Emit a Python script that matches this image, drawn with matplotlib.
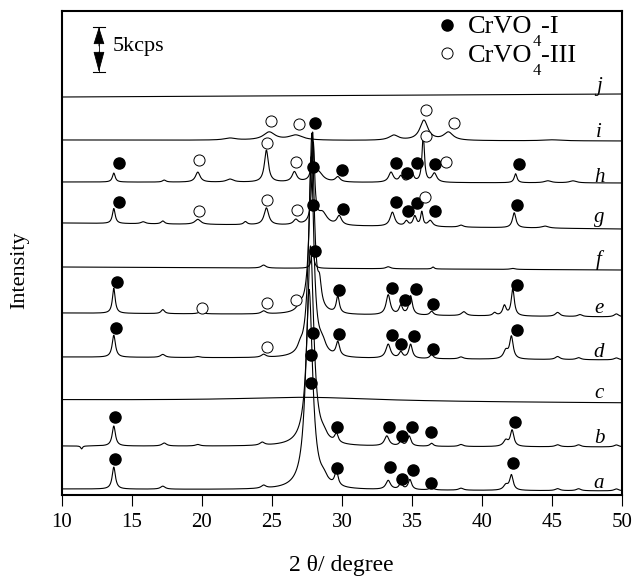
import numpy as np
import matplotlib
matplotlib.use("Agg")
import matplotlib.pyplot as plt

plt.rcParams["font.family"] = ["Liberation Serif", "DejaVu Serif"]

# pattern names, bottom to top
labels = ["a", "b", "c", "d", "e", "f", "g", "h", "i", "j"]
# stacked baseline of each pattern at 10 deg and at 50 deg
base_left = [6, 49, 95, 138, 182, 228, 272, 313, 355, 398]
base_right = [4, 48, 92, 135, 178, 225, 266, 312, 354, 401]
# y where the letter sits
label_y = [7, 52, 97, 138, 182, 230, 273, 313, 358, 404]

# reflections: (2theta, height, half width)
peaks_a = [(13.7, 22, 0.14), (17.2, 3, 0.2), (24.4, 3, 0.2), (27.65, 200, 0.3),
           (28.7, 6, 0.3), (29.6, 14, 0.15), (33.3, 9, 0.2), (34.2, 6, 0.15),
           (34.85, 10, 0.15), (36.4, 3, 0.15), (38.5, 2, 0.2), (41.7, 5, 0.2),
           (42.1, 15, 0.15), (45.4, 2, 0.2), (46.9, 2, 0.2), (49.6, 2, 0.2)]
peaks_b = [(11.4, -3, 0.08), (13.7, 20, 0.14), (17.3, 3, 0.2), (19.7, 1.5, 0.2),
           (24.3, 3, 0.2), (27.75, 200, 0.28), (28.7, 5, 0.3), (29.6, 9, 0.15),
           (33.2, 10, 0.2), (34.2, 4, 0.15), (34.8, 10, 0.15), (36.4, 3, 0.15),
           (38.5, 2, 0.2), (41.7, 6, 0.2), (42.15, 16, 0.15), (45.4, 2, 0.2),
           (46.9, 2, 0.2), (49.6, 2, 0.2)]
peaks_c = [(27.5, 4, 6.0)]
peaks_d = [(13.7, 22, 0.14), (17.2, 3, 0.2), (19.7, 1, 0.2), (24.4, 3, 0.2),
           (27.0, 5, 0.2), (27.8, 200, 0.22), (28.6, 10, 0.3), (29.7, 14, 0.15),
           (33.3, 14, 0.2), (34.2, 6, 0.15), (34.9, 14, 0.15), (36.4, 4, 0.15),
           (38.5, 2, 0.2), (41.7, 8, 0.2), (42.1, 22, 0.15), (45.4, 3, 0.2),
           (46.9, 2, 0.2), (49.6, 2, 0.2)]
peaks_e = [(13.7, 25, 0.12), (17.2, 4, 0.15), (19.9, 2, 0.2), (24.4, 3, 0.2),
           (27.0, 5, 0.2), (27.85, 180, 0.2), (28.4, 20, 0.15), (29.7, 17, 0.13),
           (33.3, 20, 0.18), (34.2, 9, 0.15), (34.9, 19, 0.15), (36.4, 4, 0.15),
           (38.7, 4, 0.2), (40.9, 3, 0.15), (41.6, 10, 0.15), (42.2, 27, 0.13),
           (45.4, 4, 0.2), (47.0, 2, 0.2), (49.6, 3, 0.2)]
peaks_f = [(24.4, 3, 0.2), (27.9, 20, 0.1), (33.3, 2, 0.2), (36.5, 2, 0.1),
           (42.2, 1, 0.2)]
peaks_g = [(13.7, 15, 0.12), (15.8, 2, 0.2), (17.2, 3, 0.15), (19.7, 5, 0.25),
           (23.1, 3, 0.15), (24.6, 17, 0.2), (26.7, 5, 0.2), (27.95, 80, 0.12),
           (28.6, 12, 0.4), (29.8, 9, 0.2), (33.6, 14, 0.2), (34.6, 5, 0.15),
           (35.2, 10, 0.15), (35.7, 14, 0.1), (36.3, 6, 0.2), (38.5, 2, 0.2),
           (42.3, 15, 0.15), (44.5, 2, 0.3)]
peaks_h = [(13.7, 9, 0.12), (17.3, 2, 0.15), (19.7, 10, 0.2), (22.0, 3, 0.3),
           (24.6, 32, 0.17), (26.6, 10, 0.2), (27.9, 45, 0.08), (28.3, 10, 0.4),
           (29.7, 5, 0.2), (33.5, 10, 0.2), (34.2, 6, 0.15), (35.0, 9, 0.15),
           (35.8, 48, 0.1), (36.6, 9, 0.2), (42.4, 9, 0.12), (44.7, 2, 0.3),
           (46.5, 2, 0.3)]
peaks_i = [(22.0, 2, 0.5), (24.8, 8, 0.5), (26.7, 5, 0.6), (33.7, 5, 0.4),
           (35.85, 20, 0.35), (37.6, 8, 0.4), (45.0, 1, 0.8)]
peaks_j = []

# CrVO4-I (filled) and CrVO4-III (open) markers: (2theta, y)
dots_a = [(13.75, 36), (27.8, 140), (29.64, 27), (33.43, 28), (34.29, 16),
          (35.07, 25), (36.36, 12), (42.21, 32)]
dots_b = [(13.79, 78), (27.8, 112), (29.64, 68), (33.36, 68), (34.29, 59),
          (35.0, 68), (36.36, 63), (42.36, 73)]
dots_d = [(13.86, 167), (27.93, 162), (29.79, 161), (33.57, 160), (34.21, 151),
          (35.14, 159), (36.5, 146), (42.5, 165)]
dots_e = [(13.93, 213), (29.79, 205), (33.57, 207), (34.5, 195), (35.29, 206),
          (36.5, 191), (42.5, 210)]
dots_f = [(28.07, 244)]
dots_g = [(14.07, 293), (27.93, 290), (30.07, 286), (33.86, 293), (34.71, 284),
          (35.36, 292), (36.64, 284), (42.5, 290)]
dots_h = [(14.07, 332), (27.93, 328), (30.0, 325), (33.86, 332), (34.64, 322),
          (35.36, 332), (36.64, 331), (42.64, 331)]
dots_i = [(28.07, 372)]
rings_d = [(24.64, 148)]
rings_e = [(20.0, 187), (24.64, 192), (26.71, 195)]
rings_g = [(19.79, 284), (24.64, 295), (26.79, 285), (35.93, 298)]
rings_h = [(19.79, 335), (24.64, 352), (26.71, 333), (36.0, 359), (37.43, 333)]
rings_i = [(24.93, 374), (26.93, 371), (36.0, 385), (38.0, 372)]

peaks = [peaks_a, peaks_b, peaks_c, peaks_d, peaks_e,
         peaks_f, peaks_g, peaks_h, peaks_i, peaks_j]
dots = dots_a + dots_b + dots_d + dots_e + dots_f + dots_g + dots_h + dots_i
rings = rings_d + rings_e + rings_g + rings_h + rings_i

two_theta = np.linspace(10, 50, 4001)


def pattern(plist, b0, b1):
    y = b0 + (b1 - b0) * (two_theta - 10) / 40
    for pos, hgt, w in plist:
        y = y + hgt / (1 + ((two_theta - pos) / w) ** 2)
    return y


fig = plt.figure(figsize=(6.36, 5.77), dpi=100)
ax = fig.add_axes([62 / 636, 82 / 577, 560 / 636, 484 / 577])

for lab, plist, b0, b1, ly in zip(labels, peaks, base_left, base_right, label_y):
    ax.plot(two_theta, pattern(plist, b0, b1), color="black", lw=0.8)
    ax.text(48.36, ly, lab, style="italic", fontsize=15, ha="center",
            va="baseline")

ax.plot([d[0] for d in dots], [d[1] for d in dots], "o", color="black",
        ms=8, zorder=4)
ax.plot([r[0] for r in rings], [r[1] for r in rings], "o", mfc="white",
        mec="black", mew=0.7, ms=8, zorder=4)

# legend (the subscript 4 sits low, as in the original figure)
ax.plot([37.5], [470], "o", color="black", ms=8)
ax.plot([37.5], [442], "o", mfc="white", mec="black", mew=0.7, ms=8)
ax.text(39.0, 462, "CrVO", fontsize=19, va="baseline")
ax.text(43.62, 449, "4", fontsize=12, va="baseline")
ax.text(44.18, 462, "-I", fontsize=19, va="baseline")
ax.text(39.0, 433, "CrVO", fontsize=19, va="baseline")
ax.text(43.62, 420, "4", fontsize=12, va="baseline")
ax.text(44.18, 433, "-III", fontsize=19, va="baseline")

# 5 kcps scale bar
sx = 12.64
ax.plot([sx - 0.43, sx + 0.43], [468, 468], color="black", lw=0.8)
ax.plot([sx - 0.43, sx + 0.43], [423, 423], color="black", lw=0.8)
ax.plot([sx, sx], [423, 468], color="black", lw=0.6)
ax.annotate("", xy=(sx, 468), xytext=(sx, 449),
            arrowprops=dict(arrowstyle="-|>,head_length=1.1,head_width=0.35",
                            color="black", lw=0.6, shrinkA=0, shrinkB=0))
ax.annotate("", xy=(sx, 423), xytext=(sx, 443),
            arrowprops=dict(arrowstyle="-|>,head_length=1.3,head_width=0.35",
                            color="black", lw=0.6, shrinkA=0, shrinkB=0))
ax.text(13.64, 448, "5kcps", fontsize=16, va="center")

ax.set_xlim(10, 50)
ax.set_ylim(0, 484)
ax.set_xticks(np.arange(10, 51, 5))
ax.set_yticks([])
ax.tick_params(axis="x", direction="out", length=8, width=0.8, pad=5,
               labelsize=15)
for sp in ax.spines.values():
    sp.set_linewidth(1.5)

fig.text(20 / 636, 1 - 270 / 577, "Intensity", rotation=90, fontsize=16,
         ha="center", va="center")
fig.text(341 / 636, 1 - 566 / 577, "2 \u03b8/ degree", fontsize=17,
         ha="center", va="center")

fig.savefig("out.png", dpi=100)
